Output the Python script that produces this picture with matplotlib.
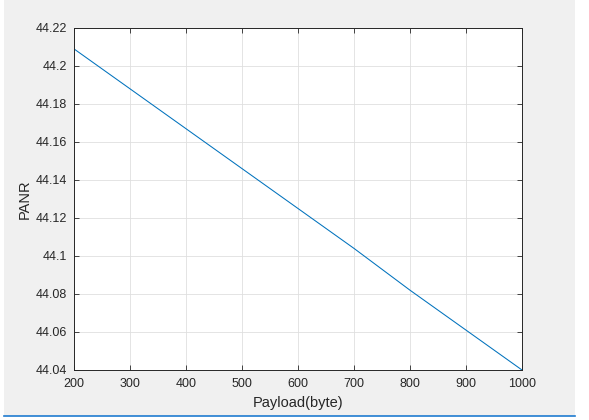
import numpy as np
import matplotlib
matplotlib.use("Agg")
import matplotlib.pyplot as plt
from matplotlib.patches import Rectangle
from matplotlib.lines import Line2D
from matplotlib.ticker import FuncFormatter

# data
payload = [200, 300, 400, 500, 600, 700, 800, 900, 1000]
panr = [44.209, 44.188, 44.167, 44.146, 44.125, 44.104, 44.082, 44.061, 44.040]

xticks = [200, 300, 400, 500, 600, 700, 800, 900, 1000]
yticks = [44.04, 44.06, 44.08, 44.1, 44.12, 44.14, 44.16, 44.18, 44.2, 44.22]

plt.rcParams['font.family'] = ['Liberation Sans', 'DejaVu Sans']

W, H = 589, 420
fig = plt.figure(figsize=(W / 100, H / 100), dpi=100, facecolor='white')

# matlab-like grey figure panel with blue bottom line
fig.patches.append(Rectangle((4 / W, 4 / H), 571 / W, 1 - 4 / H, transform=fig.transFigure,
                             facecolor='#f0f0f0', edgecolor='none', zorder=-10))
fig.lines.append(Line2D([4 / W, 575 / W], [4 / H, 4 / H], transform=fig.transFigure,
                        color='#1f7bd0', lw=1.2, zorder=-9))

ax = fig.add_axes([74 / W, 50 / H, 448 / W, 342 / H])
ax.set_zorder(5)
ax.set_facecolor('white')
ax.plot(payload, panr, color='#0072BD', lw=0.75)

ax.set_xlim(200, 1000)
ax.set_ylim(44.04, 44.22)
ax.set_xticks(xticks)
ax.set_yticks(yticks)
ax.yaxis.set_major_formatter(FuncFormatter(lambda v, p: '%g' % round(v, 4)))

ax.grid(True, color='#dfdfdf', lw=0.6)
ax.set_axisbelow(True)
for s in ax.spines.values():
    s.set_color('#262626')
    s.set_linewidth(0.7)
ax.tick_params(direction='in', top=True, right=True, length=3.5, width=0.6,
               color='#262626', labelcolor='#262626', labelsize=9)
ax.tick_params(axis='x', pad=6)
ax.tick_params(axis='y', pad=5)

ax.set_xlabel('Payload(byte)', fontsize=10.5, color='#262626', labelpad=4)
ax.set_ylabel('PANR', fontsize=10.5, color='#262626', labelpad=3)

fig.savefig('out.png', dpi=100, facecolor='white')
